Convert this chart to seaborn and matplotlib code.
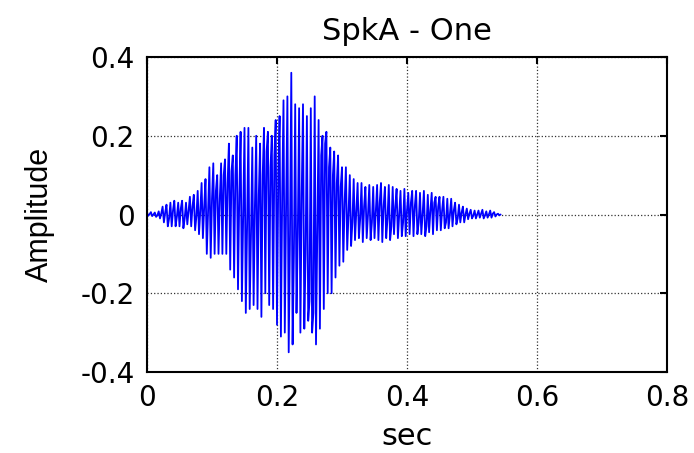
import numpy as np
import pandas as pd
import matplotlib
matplotlib.use("Agg")
import matplotlib.pyplot as plt
import seaborn as sns

# ---- data (one entry per pitch cycle) ----
sample_step_sec = 0.002
peak_hi = [0.004, 0.006, 0.005, 0.008, 0.02, 0.025, 0.03, 0.035, 0.03, 0.035,
           0.03, 0.045, 0.05, 0.06, 0.08, 0.09, 0.12, 0.13, 0.10, 0.13,
           0.14, 0.18, 0.15, 0.20, 0.21, 0.22, 0.22, 0.17, 0.20, 0.18,
           0.22, 0.21, 0.20, 0.24, 0.25, 0.29, 0.30, 0.36, 0.28, 0.27,
           0.28, 0.25, 0.27, 0.30, 0.24, 0.20, 0.21, 0.17, 0.16, 0.15,
           0.12, 0.12, 0.10, 0.09, 0.08, 0.08, 0.07, 0.075, 0.07, 0.075,
           0.08, 0.07, 0.075, 0.07, 0.065, 0.06, 0.065, 0.055, 0.06, 0.06,
           0.055, 0.06, 0.05, 0.055, 0.045, 0.045, 0.045, 0.04, 0.04, 0.03,
           0.025, 0.02, 0.015, 0.012, 0.01, 0.01, 0.012, 0.008, 0.01, 0.006,
           0.002]
peak_lo = [-0.003, -0.004, -0.006, -0.01, -0.02, -0.03, -0.03, -0.03, -0.03, -0.035,
           -0.025, -0.03, -0.04, -0.05, -0.06, -0.10, -0.11, -0.10, -0.10, -0.10,
           -0.10, -0.14, -0.16, -0.19, -0.22, -0.25, -0.24, -0.23, -0.24, -0.26,
           -0.20, -0.23, -0.24, -0.28, -0.31, -0.30, -0.35, -0.33, -0.25, -0.30,
           -0.29, -0.27, -0.30, -0.33, -0.29, -0.24, -0.20, -0.20, -0.16, -0.13,
           -0.12, -0.09, -0.08, -0.065, -0.06, -0.07, -0.06, -0.065, -0.06, -0.065,
           -0.07, -0.06, -0.065, -0.05, -0.06, -0.055, -0.055, -0.05, -0.055, -0.05,
           -0.05, -0.055, -0.045, -0.05, -0.04, -0.04, -0.035, -0.035, -0.03, -0.025,
           -0.02, -0.02, -0.012, -0.01, -0.01, -0.008, -0.01, -0.008, -0.008, -0.005,
           -0.002]
peak_mid = [0.001, 0.0, -0.002, 0.003, 0.005, -0.01, 0.01, -0.005, 0.015, -0.01,
            0.01, 0.02, -0.005, 0.01, 0.02, 0.01, 0.04, 0.06, 0.04, 0.10,
            0.08, 0.11, 0.10, 0.05, 0.0, -0.03, -0.05, 0.02, 0.05, 0.10,
            0.16, 0.12, 0.15, 0.10, 0.05, 0.02, -0.05, -0.10, -0.05, 0.05,
            -0.10, -0.22, -0.25, -0.05, 0.15, 0.18, 0.12, 0.10, 0.08, 0.07,
            0.03, 0.0, -0.02, 0.01, -0.01, 0.02, 0.0, -0.02, 0.01, 0.03,
            0.02, -0.01, -0.03, 0.02, 0.0, -0.02, 0.01, 0.03, 0.02, -0.02,
            0.0, -0.03, 0.01, 0.03, 0.02, 0.01, -0.02, 0.0, 0.01, -0.01,
            0.005, 0.0, 0.002, -0.003, 0.0, 0.002, -0.002, 0.0, 0.002, 0.0,
            0.0]

xtick_values = [0, 0.2, 0.4, 0.6, 0.8]
xtick_labels = ["0", "0.2", "0.4", "0.6", "0.8"]
ytick_values = [-0.4, -0.2, 0, 0.2, 0.4]
ytick_labels = ["-0.4", "-0.2", "0", "0.2", "0.4"]
title_text = "SpkA - One"
xlabel_text = "sec"
ylabel_text = "Amplitude"

# ---- build the waveform table: each cycle contributes hi, lo, mid samples ----
amplitude = []
for hi, lo, mid in zip(peak_hi, peak_lo, peak_mid):
    amplitude.extend([hi, lo, mid])
time_sec = np.arange(len(amplitude)) * sample_step_sec
df = pd.DataFrame({"sec": time_sec, "Amplitude": amplitude})

sns.set_style("white")
plt.rcParams["font.family"] = ["DejaVu Sans"]
plt.rcParams["text.color"] = "black"
plt.rcParams["axes.labelcolor"] = "black"
plt.rcParams["xtick.color"] = "black"
plt.rcParams["ytick.color"] = "black"

fig = plt.figure(figsize=(6.94, 4.53), dpi=100)
ax = fig.add_axes([147 / 694, 1 - 372 / 453, 520 / 694, 315 / 453])

sns.lineplot(data=df, x="sec", y="Amplitude", ax=ax, color="#0000FF",
             linewidth=1.3, estimator=None, sort=False)

ax.set_xlim(0, 0.8)
ax.set_ylim(-0.4, 0.4)
ax.set_xticks(xtick_values)
ax.set_xticklabels(xtick_labels, fontsize=20)
ax.set_yticks(ytick_values)
ax.set_yticklabels(ytick_labels, fontsize=20)
ax.tick_params(direction="in", top=True, right=True, length=5, width=1.5,
               colors="black", pad=9)
ax.grid(True, linestyle=":", color="#333333", linewidth=0.9)
for s in ax.spines.values():
    s.set_visible(True)
    s.set_color("black")
    s.set_linewidth(1.5)

ax.set_title(title_text, fontsize=22, pad=12, color="black")
ax.set_xlabel(xlabel_text, fontsize=22, labelpad=7, color="black")
ax.set_ylabel(ylabel_text, fontsize=22, family=["Liberation Sans", "DejaVu Sans"],
              labelpad=18, color="black")

fig.savefig("out.png", dpi=100, facecolor="white")
